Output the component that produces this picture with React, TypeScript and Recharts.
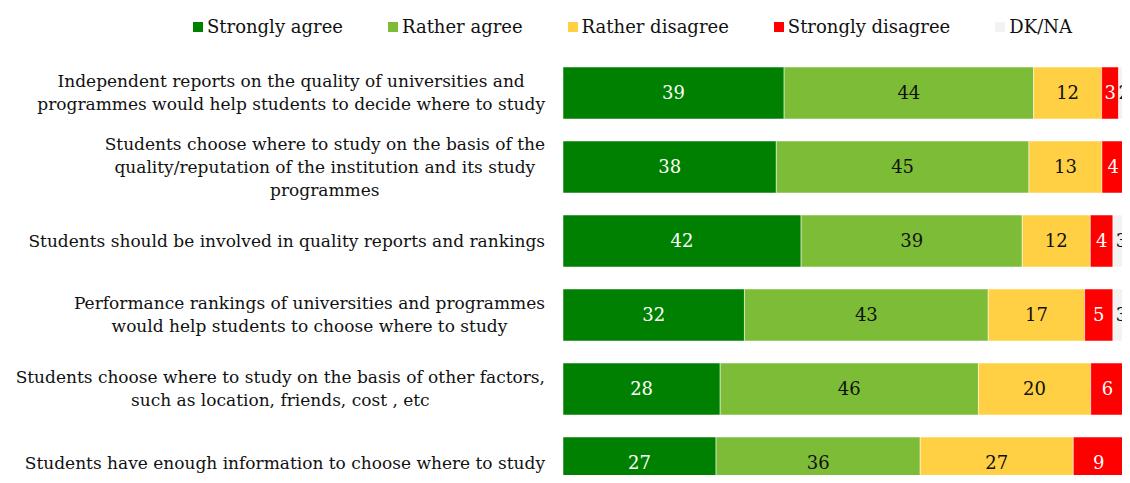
import { BarChart, Bar, XAxis, YAxis, Legend, LabelList } from "recharts";

const categories = [
  "Independent reports on the quality of universities and\nprogrammes would help students to decide where to study",
  "Students choose where to study on the basis of the\nquality/reputation of the institution and its study\nprogrammes",
  "Students should be involved in quality reports and rankings",
  "Performance rankings of universities and programmes\nwould help students to choose where to study",
  "Students choose where to study on the basis of other factors,\nsuch as location, friends, cost , etc",
  "Students have enough information to choose where to study",
];

const stronglyAgree = [39, 38, 42, 32, 28, 27];
const ratherAgree = [44, 45, 39, 43, 46, 36];
const ratherDisagree = [12, 13, 12, 17, 20, 27];
const stronglyDisagree = [3, 4, 4, 5, 6, 9];
const dkNa = [2, 1, 3, 3, 1, 1];

const FONT = '"DejaVu Serif", serif';

const series = [
  { key: "sa", name: "Strongly agree", color: "#008000", text: "#ffffff" },
  { key: "ra", name: "Rather agree", color: "#7dbc36", text: "#111111" },
  { key: "rd", name: "Rather disagree", color: "#ffd043", text: "#111111" },
  { key: "sd", name: "Strongly disagree", color: "#ff0000", text: "#ffffff" },
  { key: "dk", name: "DK/NA", color: "#f2f2f2", text: "#111111" },
];

const data = categories.map((name, i) => ({
  name,
  sa: stronglyAgree[i],
  ra: ratherAgree[i],
  rd: ratherDisagree[i],
  sd: stronglyDisagree[i],
  dk: dkNa[i],
}));

let ctx: CanvasRenderingContext2D | null = null;
function measure(text: string, size: number) {
  if (!ctx) ctx = document.createElement("canvas").getContext("2d");
  if (!ctx) return text.length * size * 0.5;
  ctx.font = `${size}px "DejaVu Serif"`;
  return ctx.measureText(text).width;
}

const TICK_SIZE = 17;
const LINE_H = 23;

function CategoryTick(props: any) {
  const { x, y, payload } = props;
  const lines: string[] = String(payload.value).split("\n");
  const block = Math.max(...lines.map((l) => measure(l, TICK_SIZE)));
  const cx = x - block / 2;
  const y0 = y - ((lines.length - 1) * LINE_H) / 2;
  return (
    <text fontFamily={FONT} fontSize={TICK_SIZE} fill="#111" textAnchor="middle">
      {lines.map((l, i) => (
        <tspan key={i} x={cx} y={y0 + i * LINE_H} dy="0.35em">
          {l}
        </tspan>
      ))}
    </text>
  );
}

function LegendContent() {
  return (
    <div
      style={{
        display: "flex",
        paddingLeft: 193,
        gap: 45,
        fontFamily: FONT,
        fontSize: 18,
        color: "#111",
        whiteSpace: "nowrap",
      }}
    >
      {series.map((s) => (
        <div key={s.key} style={{ display: "flex", alignItems: "center" }}>
          <span
            style={{
              display: "inline-block",
              width: 10,
              height: 10,
              background: s.color,
              marginRight: 4,
            }}
          />
          {s.name}
        </div>
      ))}
    </div>
  );
}

export default function App() {
  return (
    <div style={{ margin: -8, width: 1130, height: 483, overflow: "hidden", background: "#fff" }}>
      <BarChart
        width={1130}
        height={500}
        data={data}
        layout="vertical"
        stackOffset="expand"
        margin={{ top: 56, right: 0, bottom: 0, left: 0 }}
      >
        <XAxis type="number" hide domain={[0, 1]} />
        <YAxis
          type="category"
          dataKey="name"
          width={563}
          axisLine={false}
          tickLine={false}
          tickSize={0}
          tickMargin={18}
          interval={0}
          tick={<CategoryTick />}
        />
        <Legend
          verticalAlign="middle"
          align="center"
          layout="horizontal"
          wrapperStyle={{ top: 16, left: 0, width: 1130 }}
          content={<LegendContent />}
        />
        {series.map((s) => (
          <Bar
            key={s.key}
            dataKey={s.key}
            name={s.name}
            stackId="a"
            fill={s.color}
            stroke="#ffffff"
            strokeOpacity={0.5}
            strokeWidth={1}
            barSize={52}
            isAnimationActive={false}
          >
            <LabelList
              dataKey={s.key}
              position="center"
              fill={s.text}
              fontFamily={FONT}
              fontSize={18}
            />
          </Bar>
        ))}
      </BarChart>
    </div>
  );
}
